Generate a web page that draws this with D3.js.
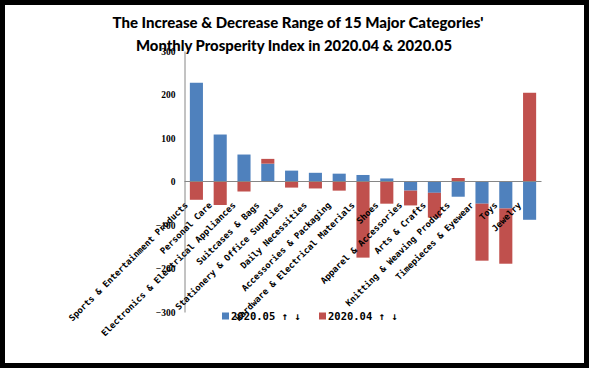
<!DOCTYPE html>
<html><head><meta charset="utf-8">
<script src="https://cdn.jsdelivr.net/npm/d3@7"></script>
<style>
html,body{margin:0;padding:0;background:#000;}
svg{display:block;}
</style></head>
<body>
<script>
const categories = ["Sports & Entertainment Products","Personal Care","Electronics & Electrical Appliances","Suitcases & Bags","Stationery & Office Supplies","Daily Necessities","Accessories & Packaging","Hardware & Electrical Materials","Shoes","Apparel & Accessories","Arts & Crafts","Knitting & Weaving Products","Timepieces & Eyewear","Toys","Jewelry"];
const may = [227,108,62,41,25,20,18,15,7,-21,-26,-35,-51,-62,-88];
const april = [-42,-54,-23,11,-14,-16,-21,-175,-51,-34,-57,8,-131,-127,204];
const seriesNames = ["2020.05 \u2191 \u2193","2020.04 \u2191 \u2193"];
const colors = ["#4F81BD","#C0504D"];
const yTicks = [300,200,100,0,-100,-200,-300];
const titleLines = ["The Increase & Decrease Range of 15 Major Categories'","Monthly Prosperity Index in 2020.04 & 2020.05"];

const W = 589, H = 368;
const svg = d3.select("body").append("svg").attr("width", W).attr("height", H);
svg.append("rect").attr("x",5).attr("y",5).attr("width",W-10).attr("height",H-10).attr("fill","#fff");

const x = d3.scaleBand().domain(categories).range([184.5, 541.5]).paddingInner(0.45).paddingOuter(0.225);
const y = d3.scaleLinear().domain([-300,300]).range([312, 51]);

const table = categories.map((c,i)=>({cat:c, may:may[i], april:april[i]}));
const stack = d3.stack().keys(["may","april"]).offset(d3.stackOffsetDiverging);
const series = stack(table);

// y axis
const yAxis = d3.axisLeft(y).tickValues(yTicks).tickSize(0).tickPadding(9).tickFormat(d3.format("d"));
const gy = svg.append("g").attr("transform","translate(184.5,0)").call(yAxis);
gy.select(".domain").attr("stroke","#868686").attr("stroke-width",1);
gy.selectAll("text").attr("font-family","'Liberation Serif', serif").attr("font-weight","bold").attr("font-size","9.5px").attr("fill","#000");

// bars
svg.append("g").selectAll("g").data(series).join("g").attr("fill",(d,i)=>colors[i])
  .selectAll("rect").data(d=>d).join("rect")
  .attr("x", d=>x(d.data.cat)).attr("width", x.bandwidth())
  .attr("y", d=>y(Math.max(d[0],d[1]))).attr("height", d=>Math.abs(y(d[0])-y(d[1])));

// zero line
svg.append("line").attr("x1",184.5).attr("x2",541.5).attr("y1",y(0)).attr("y2",y(0)).attr("stroke","#868686").attr("stroke-width",1);

// category labels
svg.append("g").selectAll("text").data(categories).join("text")
  .attr("transform", d=>`translate(${x(d)+x.bandwidth()/2-10},${y(0)+22}) rotate(-45)`)
  .attr("text-anchor","end").attr("dy","0.35em")
  .attr("font-family","'DejaVu Sans Mono', monospace").attr("font-weight","bold").attr("font-size","8.8px").attr("fill","#000")
  .text(d=>d);

// title
const tt = svg.append("g");
tt.append("text").attr("x",298).attr("y",28).attr("text-anchor","middle")
  .attr("font-family","Lato, sans-serif").attr("font-weight","900").attr("font-size","15px")
  .attr("textLength",371).attr("lengthAdjust","spacingAndGlyphs").text(titleLines[0]);
tt.append("text").attr("x",294).attr("y",51).attr("text-anchor","middle")
  .attr("font-family","Lato, sans-serif").attr("font-weight","900").attr("font-size","15px")
  .attr("textLength",316).attr("lengthAdjust","spacingAndGlyphs").text(titleLines[1]);

// legend
const legX = [222, 319];
const lg = svg.append("g").selectAll("g").data(seriesNames).join("g")
  .attr("transform",(d,i)=>`translate(${legX[i]},316)`);
lg.append("rect").attr("x",0).attr("y",-3.5).attr("width",7).attr("height",7).attr("fill",(d,i)=>colors[i]);
lg.append("text").attr("x",9).attr("dy","0.35em")
  .attr("font-family","'DejaVu Sans Mono', monospace").attr("font-weight","bold").attr("font-size","10.5px").attr("fill","#000")
  .text(d=>d);
</script>
</body></html>
